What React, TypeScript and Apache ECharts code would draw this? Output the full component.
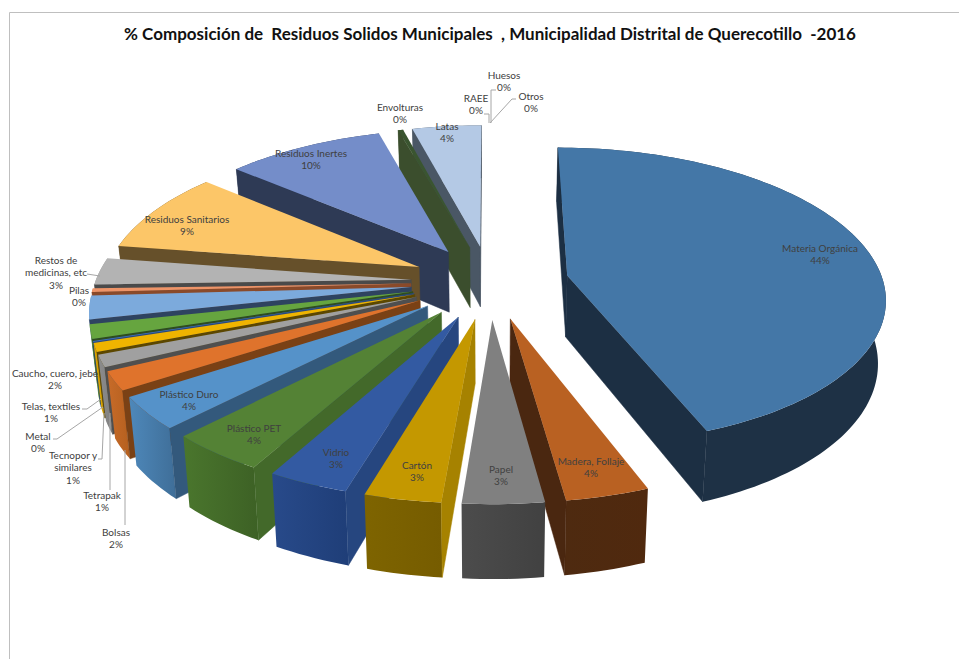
import React, { useEffect, useRef } from "react";
import * as echarts from "echarts";

const TITLE = "% Composición de  Residuos Solidos Municipales  , Municipalidad Distrital de Querecotillo  -2016";

// Slices, clockwise from twelve o'clock
const NAMES = [
  "Materia Orgánica", "Madera, Follaje", "Papel", "Cartón", "Vidrio", "Plástico PET", "Plástico Duro",
  "Bolsas", "Tetrapak", "Tecnopor y\nsimilares", "Metal", "Telas, textiles", "Caucho, cuero, jebe", "Pilas",
  "Restos de\nmedicinas, etc", "Residuos Sanitarios", "Residuos Inertes", "Envolturas", "Latas", "RAEE", "Huesos", "Otros",
];
const VALUES = [
  44.2, 3.6, 3.5, 3.3, 3.5, 4.2, 3.5,
  2.0, 1.3, 0.9, 0.1, 1.5, 2.5, 0.4,
  2.9, 8.8, 9.4, 0.3, 4.1, 0, 0, 0,
];
const PERCENT_LABELS = [44, 4, 3, 3, 3, 4, 4, 2, 1, 1, 0, 1, 2, 0, 3, 9, 10, 0, 4, 0, 0, 0];

// Palette: top face, radial wall, outer wall (left, right)
const TOP_COLORS = ["#4477A7", "#B96122", "#808080", "#C49800", "#335AA2", "#548235", "#5592C9", "#DF732C", "#A0A0A0", "#EFB400", "#3E6DBF", "#66A53F", "#7CAADC", "#EE9468", "#B3B3B3", "#FCC668", "#748DC9", "#3A5530", "#B4C9E5", "#8FAADC", "#F4B183", "#C9C9C9"];
const SIDE_COLORS = ["#1C2F43", "#4A2710", "#4A4A4A", "#A68200", "#26467F", "#43692A", "#33597C", "#7A4115", "#4F4F4F", "#5C4700", "#2A4A80", "#2F4D1F", "#2E4360", "#8A4A2A", "#4A4A4A", "#66502A", "#2E3A55", "#3B4E2D", "#4A5765", "#444444", "#444444", "#444444"];
const OUTER_LEFT = ["#1E3145", "#4E2A10", "#4C4C4C", "#7E6400", "#284A8A", "#4A762D", "#4E88BA", "#C76B29", "#8C8C8C", "#D9A300", "#3560A8", "#5C9639", "#6F9CCB", "#D68250", "#9C9C9C", "#66502A", "#2E3A55", "#3B4E2D", "#4A5765", "#444444", "#444444", "#444444"];
const OUTER_RIGHT = ["#1E3145", "#50290E", "#414141", "#765C00", "#1F3E78", "#3D6125", "#3F6E98", "#B5601F", "#808080", "#D9A300", "#3560A8", "#5C9639", "#6F9CCB", "#D68250", "#9C9C9C", "#66502A", "#2E3A55", "#3B4E2D", "#4A5765", "#444444", "#444444", "#444444"];

// Label centres in the picture, by slice
const LABEL_POS: number[][] = [
  [820, 254], [591, 467], [501, 475], [417, 471], [336, 458], [254, 434], [189, 400],
  [116, 538], [102, 501], [73, 467], [38, 442], [51, 412], [55, 379], [79, 296],
  [56, 272], [187, 225], [311, 159], [400, 113], [447, 132], [476, 104], [504, 81], [531, 102],
];
const LEADERS: number[][][] = [
  [[87, 274], [100, 276]],
  [[82, 409], [87, 409], [101, 399]],
  [[53, 439], [57, 439], [103, 407]],
  [[98, 459], [102, 459], [104, 413]],
  [[110, 490], [110, 413]],
  [[125, 525], [125, 450]],
  [[484, 114], [489, 114], [489, 123]],
  [[496, 90], [491, 90], [491, 123]],
  [[516, 99], [512, 99], [490, 123]],
];

// Perspective model of the pie's plane
const CX = 490, R = 316, HORIZON_Y = -784, H = 1066, K = 0.138;
const EXPLODE = 0.25, DEPTH = 62, SHRINK = 0.98;

const TOTAL = VALUES.reduce((a, b) => a + b, 0);
const toAngle = (v: number) => (v / TOTAL) * Math.PI * 2;

function project(u: number, v: number, low: boolean): number[] {
  const s = 1 / (1 - K * v);
  const x = CX + R * u * s * (low ? SHRINK : 1);
  const y = HORIZON_Y + H * s + (low ? DEPTH * s : 0);
  return [x, y];
}

function sliceRange(i: number) {
  let start = 0;
  for (let k = 0; k < i; k++) start += toAngle(VALUES[k]);
  return [start, start + toAngle(VALUES[i])];
}

function signedArea(p: number[][]) {
  let a = 0;
  for (let i = 0; i < p.length; i++) {
    const q = p[(i + 1) % p.length];
    a += p[i][0] * q[1] - q[0] * p[i][1];
  }
  return a / 2;
}

function renderSlice(_: any, api: any) {
  const i = api.value(0);
  const val = api.value(1);
  if (!(val > 0)) return { type: "group", children: [] };
  const [a0, a1] = sliceRange(i);
  const mid = (a0 + a1) / 2;
  const ou = EXPLODE * Math.sin(mid);
  const ov = -EXPLODE * Math.cos(mid);
  const steps = Math.max(2, Math.ceil((a1 - a0) / 0.025));
  const arc = (low: boolean) => {
    const pts: number[][] = [];
    for (let k = 0; k <= steps; k++) {
      const t = a0 + ((a1 - a0) * k) / steps;
      pts.push(project(ou + Math.sin(t), ov - Math.cos(t), low));
    }
    return pts;
  };
  const topArc = arc(false);
  const lowArc = arc(true);
  const apex = project(ou, ov, false);
  const apexLow = project(ou, ov, true);
  const children: any[] = [];
  const side = (p: number[][]) => children.push({ type: "polygon", shape: { points: p }, style: { fill: SIDE_COLORS[i], stroke: SIDE_COLORS[i], lineWidth: 0.5 } });
  // Outer wall first: its rear-facing part must stay behind the radial walls
  children.push({
    type: "polygon",
    shape: { points: [...topArc, ...lowArc.slice().reverse()] },
    style: {
      fill: new echarts.graphic.LinearGradient(0, 0, 1, 0, [
        { offset: 0, color: OUTER_LEFT[i] },
        { offset: 1, color: OUTER_RIGHT[i] },
      ]),
    },
  });
  // Radial walls: in screen coordinates a wall facing the viewer winds negatively
  const startWall = [apex, topArc[0], lowArc[0], apexLow];
  const endWall = [topArc[steps], apex, apexLow, lowArc[steps]];
  if (signedArea(startWall) < 0) side(startWall);
  if (signedArea(endWall) < 0) side(endWall);
  // Top face
  children.push({
    type: "polygon",
    shape: { points: [apex, ...topArc] },
    style: { fill: TOP_COLORS[i] },
  });
  return { type: "group", children };
}

function drawOrder() {
  const idx = VALUES.map((_, i) => i);
  const depth = (i: number) => {
    const [a0, a1] = sliceRange(i);
    return -Math.cos((a0 + a1) / 2);
  };
  return idx.sort((p, q) => depth(p) - depth(q));
}

export default function App() {
  const ref = useRef<HTMLDivElement>(null);
  useEffect(() => {
    const chart = echarts.init(ref.current!, undefined, { renderer: "svg" });
    const labelEls = NAMES.map((n, i) => ({
      type: "text",
      z: 100,
      x: LABEL_POS[i][0],
      y: LABEL_POS[i][1],
      style: {
        text: `${n}\n${PERCENT_LABELS[i]}%`,
        fill: "#404040",
        font: "10px Lato",
        lineHeight: 12.5,
        align: "center",
        verticalAlign: "middle",
      },
    }));
    const leaderEls = LEADERS.map((pts) => ({
      type: "polyline",
      z: 90,
      shape: { points: pts },
      style: { stroke: "#a6a6a6", lineWidth: 1, fill: "none" },
    }));
    chart.setOption({
      animation: false,
      backgroundColor: "#ffffff",
      title: {
        text: TITLE,
        left: 485,
        top: 20,
        textAlign: "center",
        textStyle: { fontFamily: "Lato", fontWeight: "bold", fontSize: 17, color: "#111111" },
      },
      series: [
        {
          type: "custom",
          coordinateSystem: "none",
          renderItem: renderSlice,
          data: drawOrder().map((i) => [i, VALUES[i]]),
          silent: true,
        },
      ],
      graphic: [
        { type: "line", z: 80, shape: { x1: 9.5, y1: 12.5, x2: 959, y2: 12.5 }, style: { stroke: "#bfbfbf", lineWidth: 1 } },
        { type: "line", z: 80, shape: { x1: 9.5, y1: 12.5, x2: 9.5, y2: 659 }, style: { stroke: "#bfbfbf", lineWidth: 1 } },
        ...leaderEls,
        ...labelEls,
      ],
    });
    return () => chart.dispose();
  }, []);
  return <div ref={ref} style={{ position: "absolute", left: 0, top: 0, width: 959, height: 659 }} />;
}
